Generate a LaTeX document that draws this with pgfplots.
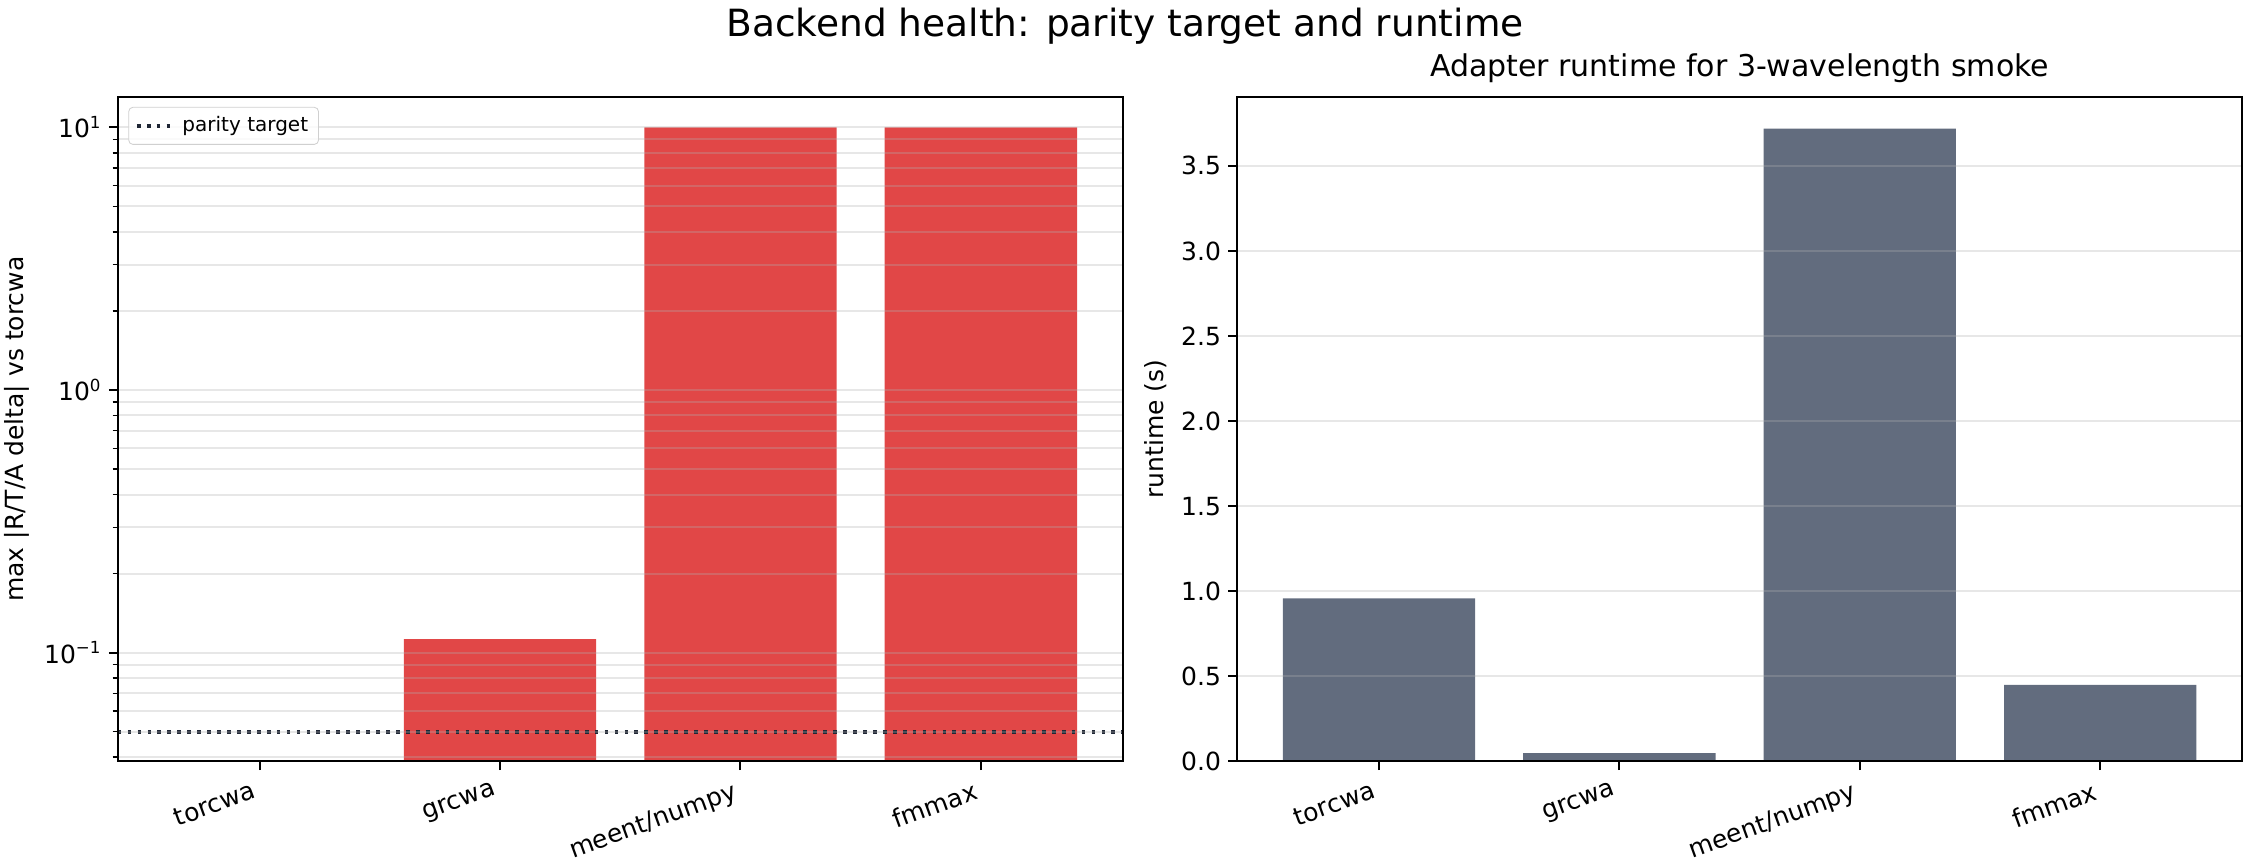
\documentclass[border=0pt]{standalone}
\usepackage{fontspec}
\setmainfont{DejaVu Sans}
\usepackage{pgfplots}
\pgfplotsset{compat=1.18}
\definecolor{barred}{RGB}{225,71,71}
\definecolor{barslate}{RGB}{98,108,126}
\definecolor{gridgray}{RGB}{176,176,176}
\definecolor{targetc}{RGB}{31,38,52}
\begin{document}
\begin{tikzpicture}
\useasboundingbox (0,0) rectangle (1080pt,414.72pt);
\pgfplotsset{
  common/.style={
    scale only axis, width=482.4pt, height=319pt,
    anchor=south west,
    xmin=-0.59, xmax=3.59,
    xtick={0,1,2,3}, xticklabels={torcwa,grcwa,meent/numpy,fmmax},
    xticklabel style={rotate=20, anchor=north east, xshift=-2pt, font=\fontsize{12}{14}\selectfont},
    yticklabel style={font=\fontsize{12}{14}\selectfont},
    label style={font=\fontsize{12}{14}\selectfont},
    /pgf/number format/assume math mode=true,
    tick align=outside, major tick length=4.2pt, minor tick length=2.4pt,
    tick style={black, line width=0.96pt},
    minor tick style={black, line width=0.72pt},
    axis line style={line width=0.96pt},
    tick pos=left,
    axis on top,
    ymajorgrids,
    major grid style={gridgray, opacity=0.3, line width=0.96pt},
    minor grid style={gridgray, opacity=0.3, line width=0.96pt},
  }
}
% Left: log-scale parity
\begin{axis}[common,
  at={(56.5pt,49.2pt)},
  ymode=log, log basis y=10, log origin y=infty,
  ymin=0.0385, ymax=13.07,
  ytick={0.1,1,10},
  yticklabels={10\textsuperscript{−1},10\textsuperscript{0},10\textsuperscript{1}},
  minor ytick={0.04,0.05,0.06,0.07,0.08,0.09,0.2,0.3,0.4,0.5,0.6,0.7,0.8,0.9,2,3,4,5,6,7,8,9},
  yminorgrids,
  ylabel={max |R/T/A delta| vs torcwa},
  legend style={at={(0,1)}, anchor=north west, xshift=5.1pt, yshift=-4.8pt,
    draw=gridgray!60, rounded corners=2pt, font=\fontsize{9.6}{11.5}\selectfont,
    inner xsep=3pt, inner ysep=2.5pt, fill=white, fill opacity=0.8, text opacity=1},
  legend cell align=left,
  legend image code/.code={\draw[#1] (0pt,0pt) -- (19pt,0pt);},
]
\addplot[ybar, bar width=0.8, fill=barred, draw=none, forget plot]
  coordinates {(1,0.1125) (2,10) (3,10)};
\addplot[targetc, line width=1.8pt, dash pattern=on 1.8pt off 2.97pt]
  coordinates {(-0.59,0.05) (3.59,0.05)};
\addlegendentry{parity target}
\end{axis}
% Right: runtime
\begin{axis}[common,
  at={(593.8pt,49.2pt)},
  ymin=0, ymax=3.905,
  ytick={0,0.5,1,1.5,2,2.5,3,3.5},
  yticklabel style={/pgf/number format/.cd, fixed, fixed zerofill, precision=1},
  ylabel={runtime (s)},
  title={Adapter runtime for 3-wavelength smoke},
  title style={font=\fontsize{14.4}{17}\selectfont, at={(0.5,1)}, anchor=south, yshift=0.5pt, inner sep=0pt},
]
\addplot[ybar, bar width=0.8, fill=barslate, draw=none]
  coordinates {(0,0.959) (1,0.049) (2,3.719) (3,0.450)};
\end{axis}
\node[anchor=base, font=\fontsize{18}{21.6}\selectfont] at (540pt,397.4pt)
  {Backend health: parity target and runtime};
\end{tikzpicture}
\end{document}
